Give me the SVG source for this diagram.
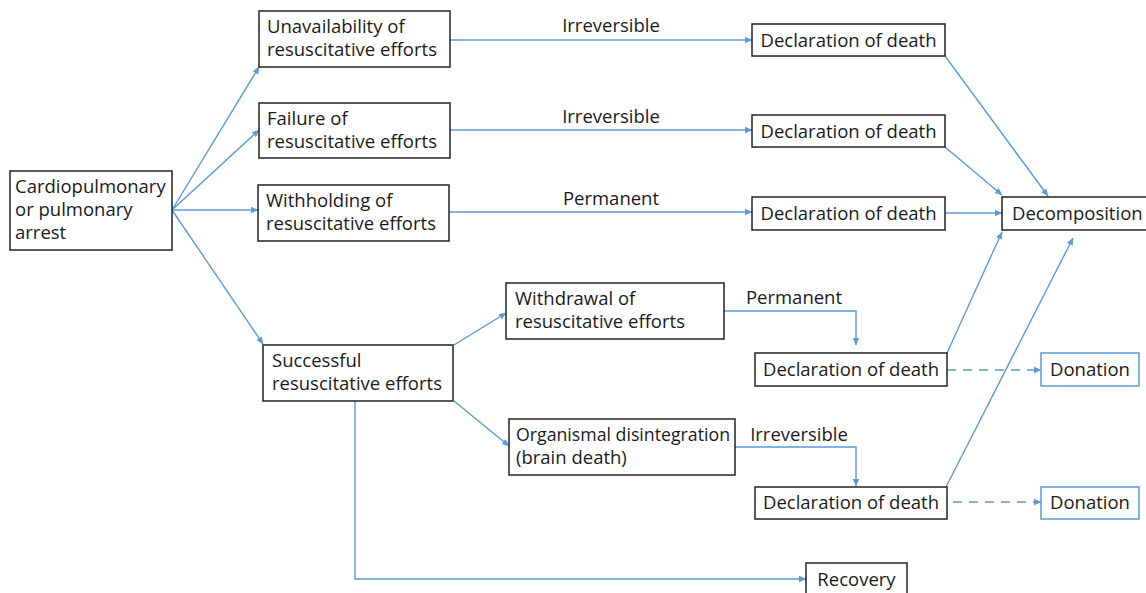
<svg xmlns="http://www.w3.org/2000/svg" width="1146" height="593" viewBox="0 0 1146 593">
<defs>
<marker id="ah" markerWidth="8" markerHeight="8" refX="7" refY="4" orient="auto" markerUnits="userSpaceOnUse">
<path d="M0,0.8 L7.5,4 L0,7.2 Z" fill="#5b9bd5"/>
</marker>
<style>
.box{fill:#fff;stroke:#222;stroke-width:1.5}
.bbox{fill:#fff;stroke:#5b9bd5;stroke-width:1.5}
.t{font-family:"Open Sans","Noto Sans","DejaVu Sans",sans-serif;font-size:18.5px;fill:#1a1a1a}
.c{fill:none;stroke:#5b9bd5;stroke-width:1.4;marker-end:url(#ah)}
.d{stroke-dasharray:9,7}
</style>
</defs>
<rect width="1146" height="593" fill="#fff"/>
<g id="connectors">
<path class="c" d="M172,210 L259,67"/>
<path class="c" d="M172,210 L259,130"/>
<path class="c" d="M172,210 L258,210"/>
<path class="c" d="M172,210 L263,344"/>
<path class="c" d="M450,40 L752,40"/>
<path class="c" d="M450,130 L752,130"/>
<path class="c" d="M449,212 L752,212"/>
<path class="c" d="M945,56 L1048,196"/>
<path class="c" d="M945,147 L1002,195"/>
<path class="c" d="M945,213 L1002,213"/>
<path class="c" d="M947,353 L1002,232"/>
<path class="c" d="M946,487 L1073,238"/>
<path class="c" d="M454,345 L506,313"/>
<path class="c" d="M454,401 L509,446"/>
<path class="c" d="M355,401 L355,579 L806,579"/>
<path class="c" d="M724,311 L856,311 L856,345"/>
<path class="c" d="M735,447 L856,447 L856,486"/>
<path class="c d" d="M947,370 L1041,370"/>
<path class="c d" d="M953,502 L1041,502"/>
<text class="t" x="611" y="32" text-anchor="middle">Irreversible</text>
<text class="t" x="611" y="123" text-anchor="middle">Irreversible</text>
<text class="t" x="611" y="205" text-anchor="middle">Permanent</text>
<text class="t" x="794" y="304" text-anchor="middle">Permanent</text>
<text class="t" x="799" y="441" text-anchor="middle">Irreversible</text>
</g>
<g id="n-arrest">
<rect class="box" x="10" y="171" width="162" height="79"/>
<text class="t" x="15" y="193">Cardiopulmonary</text>
<text class="t" x="15" y="216">or pulmonary</text>
<text class="t" x="15" y="239">arrest</text>
</g>
<g id="n-unavail">
<rect class="box" x="259" y="11" width="191" height="56"/>
<text class="t" x="267" y="33">Unavailability of</text>
<text class="t" x="267" y="56">resuscitative efforts</text>
</g>
<g id="n-failure">
<rect class="box" x="259" y="103" width="191" height="55"/>
<text class="t" x="267" y="125">Failure of</text>
<text class="t" x="267" y="148">resuscitative efforts</text>
</g>
<g id="n-withhold">
<rect class="box" x="258" y="185" width="191" height="56"/>
<text class="t" x="266" y="207">Withholding of</text>
<text class="t" x="266" y="230">resuscitative efforts</text>
</g>
<g id="n-success">
<rect class="box" x="263" y="345" width="190" height="56"/>
<text class="t" x="272" y="367">Successful</text>
<text class="t" x="272" y="390">resuscitative efforts</text>
</g>
<g id="n-withdraw">
<rect class="box" x="506" y="283" width="218" height="56"/>
<text class="t" x="515" y="305">Withdrawal of</text>
<text class="t" x="515" y="328">resuscitative efforts</text>
</g>
<g id="n-organismal">
<rect class="box" x="509" y="419" width="226" height="56"/>
<text class="t" x="516" y="441" textLength="214" lengthAdjust="spacingAndGlyphs">Organismal disintegration</text>
<text class="t" x="516" y="464">(brain death)</text>
</g>
<g id="n-decl1">
<rect class="box" x="752" y="24" width="193" height="32"/>
<text class="t" x="848.5" y="47" text-anchor="middle">Declaration of death</text>
</g>
<g id="n-decl2">
<rect class="box" x="752" y="115" width="193" height="32"/>
<text class="t" x="848.5" y="138" text-anchor="middle">Declaration of death</text>
</g>
<g id="n-decl3">
<rect class="box" x="752" y="197" width="193" height="33"/>
<text class="t" x="848.5" y="220" text-anchor="middle">Declaration of death</text>
</g>
<g id="n-decl4">
<rect class="box" x="755" y="353" width="192" height="33"/>
<text class="t" x="851" y="376" text-anchor="middle">Declaration of death</text>
</g>
<g id="n-decl5">
<rect class="box" x="755" y="487" width="192" height="32"/>
<text class="t" x="851" y="509" text-anchor="middle">Declaration of death</text>
</g>
<g id="n-decomp">
<rect class="box" x="1002" y="197" width="150" height="33"/>
<text class="t" x="1012" y="220">Decomposition</text>
</g>
<g id="n-donation1">
<rect class="bbox" x="1041" y="353" width="98" height="33"/>
<text class="t" x="1090" y="376" text-anchor="middle">Donation</text>
</g>
<g id="n-donation2">
<rect class="bbox" x="1041" y="487" width="98" height="32"/>
<text class="t" x="1090" y="509" text-anchor="middle">Donation</text>
</g>
<g id="n-recovery">
<rect class="box" x="806" y="563" width="101" height="40"/>
<text class="t" x="856.5" y="586" text-anchor="middle">Recovery</text>
</g>
</svg>
